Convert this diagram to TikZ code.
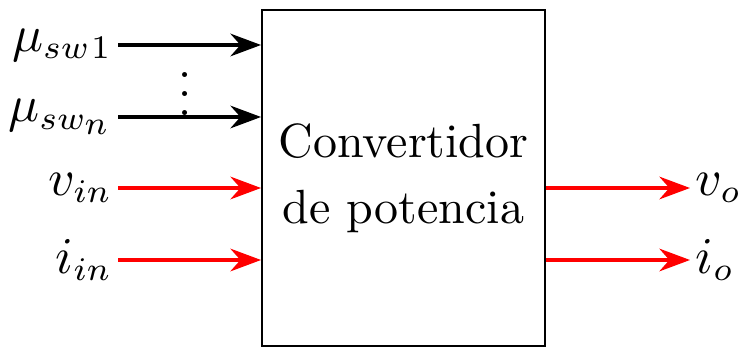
\documentclass[tikz,border=0pt]{standalone}
\usetikzlibrary{arrows.meta}
\begin{document}
\begin{tikzpicture}[x=0.2125pt,y=-0.2125pt,
  sig/.style={thick,-{Stealth[length=6.5pt,width=4.8pt]}},
  pow/.style={sig,red},
  lbl/.style={inner sep=1pt,font=\fontsize{10.7}{13}\selectfont}]
\useasboundingbox (0,0) rectangle (744,348);
\node[draw,minimum width=60.14pt,minimum height=71.4pt,inner sep=0,align=center,
  font=\fontsize{10.2}{14}\selectfont] (box) at (403.5,178) {Convertidor\\de potencia};
\coordinate (s1) at (118,45);
\coordinate (sn) at (118,117);
\coordinate (vi) at (118,188);
\coordinate (ii) at (118,260);
\coordinate (vo) at (690,188);
\coordinate (io) at (690,260);
\node[lbl,anchor=east] (ls1) at (s1) {$\mu_{sw\mkern1mu 1}$};
\node[lbl,anchor=east] (lsn) at (sn) {$\mu_{sw_{\scriptstyle n}}$};
\node[lbl,anchor=east] (lvi) at (vi) {$v_{in}$};
\node[lbl,anchor=east] (lii) at (ii) {$i_{in}$};
\node[lbl,anchor=west] (lvo) at (vo) {$v_o$};
\node[lbl,anchor=west] (lio) at (io) {$i_o$};
\node[inner sep=0] (dots) at (185,80) {$\vdots$};
\draw[sig] (s1) -- (s1 -| box.west);
\draw[sig] (sn) -- (sn -| box.west);
\draw[pow] (vi) -- (vi -| box.west);
\draw[pow] (ii) -- (ii -| box.west);
\draw[pow] (vo -| box.east) -- (vo);
\draw[pow] (io -| box.east) -- (io);
\end{tikzpicture}
\end{document}
